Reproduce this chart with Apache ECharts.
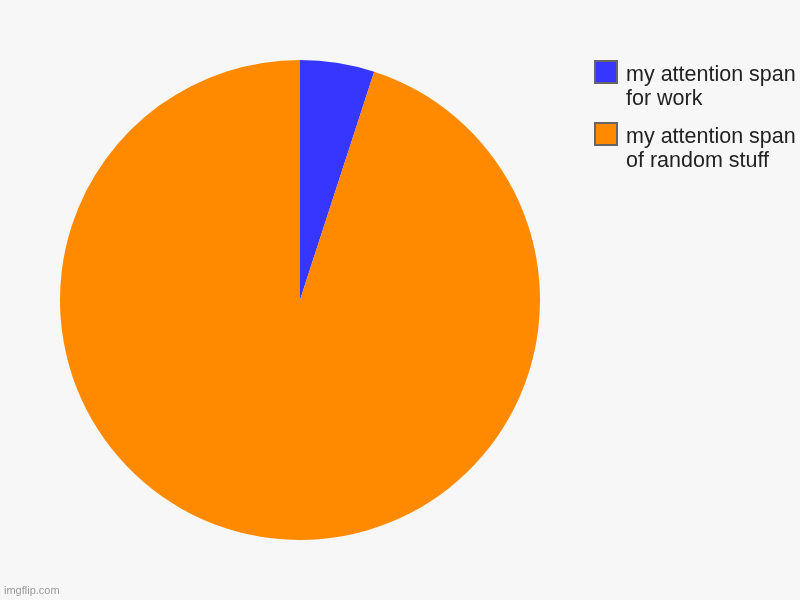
<!DOCTYPE html>
<html>
<head>
<meta charset="utf-8">
<script src="https://cdn.jsdelivr.net/npm/echarts@6/dist/echarts.min.js"></script>
<style>
html,body{margin:0;padding:0;background:#f7f7f7;}
#c{width:800px;height:600px;}
</style>
</head>
<body>
<div id="c"></div>
<script>
const categories = ["my attention span for work", "my attention span of random stuff"];
const legendLines = [["my attention span", "for work"], ["my attention span", "of random stuff"]];
const values = [5, 95];
const colors = ["#3636ff", "#ff8a00"];

const legendGraphics = [];
categories.forEach((c, i) => {
  const top = 60 + i * 62;
  legendGraphics.push({
    type: 'rect',
    shape: { x: 595, y: top + 1, width: 22, height: 22 },
    style: { fill: colors[i], stroke: '#666', lineWidth: 2 }
  });
  legendGraphics.push({
    type: 'text',
    x: 626,
    y: top + 3,
    style: {
      text: legendLines[i].join('\n'),
      fill: '#222',
      font: '21.5px "Liberation Sans", Arial, sans-serif',
      lineHeight: 24,
      verticalAlign: 'top'
    },
    silent: true
  });
});

const chart = echarts.init(document.getElementById('c'));
chart.setOption({
  backgroundColor: '#f7f7f7',
  animation: false,
  graphic: legendGraphics.concat([{
    type: 'text',
    left: 4,
    top: 585,
    style: { text: 'imgflip.com', fill: '#9a9a9a', font: '11px "Liberation Sans", Arial, sans-serif' }
  }]),
  series: [{
    type: 'pie',
    center: [300, 300],
    radius: 240,
    startAngle: 90,
    clockwise: true,
    label: { show: false },
    labelLine: { show: false },
    emphasis: { disabled: true },
    data: categories.map((c, i) => ({ name: c, value: values[i], itemStyle: { color: colors[i] } }))
  }]
});
</script>
</body>
</html>
